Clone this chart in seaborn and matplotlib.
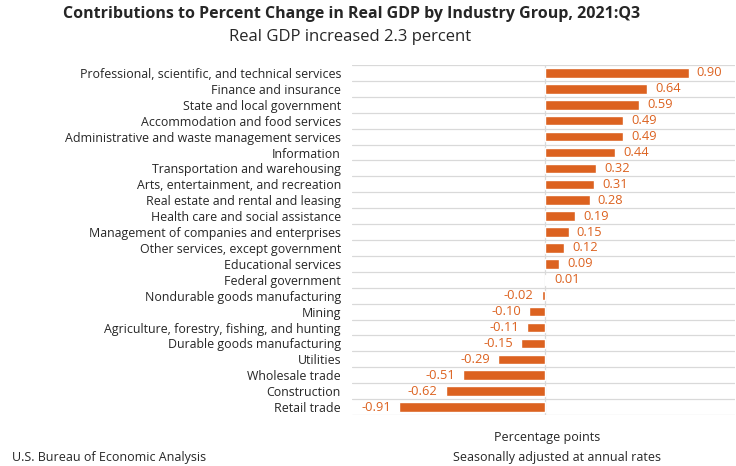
import numpy as np
import pandas as pd
import matplotlib
matplotlib.use("Agg")
import matplotlib.pyplot as plt
import seaborn as sns

# data
industries = [
    "Professional, scientific, and technical services",
    "Finance and insurance",
    "State and local government",
    "Accommodation and food services",
    "Administrative and waste management services",
    "Information",
    "Transportation and warehousing",
    "Arts, entertainment, and recreation",
    "Real estate and rental and leasing",
    "Health care and social assistance",
    "Management of companies and enterprises",
    "Other services, except government",
    "Educational services",
    "Federal government",
    "Nondurable goods manufacturing",
    "Mining",
    "Agriculture, forestry, fishing, and hunting",
    "Durable goods manufacturing",
    "Utilities",
    "Wholesale trade",
    "Construction",
    "Retail trade",
]
contributions = [0.90, 0.64, 0.59, 0.49, 0.49, 0.44, 0.32, 0.31, 0.28, 0.19, 0.15,
                 0.12, 0.09, 0.01, -0.02, -0.10, -0.11, -0.15, -0.29, -0.51, -0.62, -0.91]

df = pd.DataFrame({"industry": industries, "value": contributions})

sns.set_style("white")
plt.rcParams["font.family"] = ["Open Sans", "DejaVu Sans"]

bar_color = "#DC6220"
fig = plt.figure(figsize=(7.36, 4.66), dpi=100)
ax = fig.add_axes([352 / 736, 1 - 415 / 466, (735 - 352) / 736, 350 / 466])

sns.barplot(data=df, y="industry", x="value", orient="h", color=bar_color,
            width=0.6, saturation=1, ax=ax)

ax.set_xlim(-1.206, 1.19)
ax.set_ylim(len(industries) - 0.5, -0.5)

# gridlines between categories
for y in np.arange(-0.5, len(industries), 1.0):
    ax.axhline(y, color="#D9D9D9", lw=0.9, zorder=0)
ax.axvline(0, color="#D9D9D9", lw=0.9, zorder=0)

for i, v in enumerate(contributions):
    if v >= 0:
        ax.text(v + 0.05, i, f"{v:.2f}", va="center", ha="left", color=bar_color, fontsize=9.3)
    else:
        ax.text(v - 0.05, i, f"{v:.2f}", va="center", ha="right", color=bar_color, fontsize=9.3)

ax.set_xticks([])
ax.set_xlabel("")
ax.set_ylabel("")
ax.tick_params(axis="y", length=0, pad=8, labelsize=8.9)
for s in ax.spines.values():
    s.set_visible(False)

fig.text(352 / 736, 1 - 14 / 466, "Contributions to Percent Change in Real GDP by Industry Group, 2021:Q3",
         ha="center", va="center", fontsize=11.5, fontweight="bold")
fig.text(350 / 736, 1 - 37 / 466, "Real GDP increased 2.3 percent", ha="center", va="center", fontsize=12)
fig.text(547 / 736, 1 - 437 / 466, "Percentage points", ha="center", va="center", fontsize=9)
fig.text(557 / 736, 1 - 458 / 466, "Seasonally adjusted at annual rates", ha="center", va="center", fontsize=9)
fig.text(12 / 736, 1 - 458 / 466, "U.S. Bureau of Economic Analysis", ha="left", va="center", fontsize=9)

fig.savefig("out.png", dpi=100)
